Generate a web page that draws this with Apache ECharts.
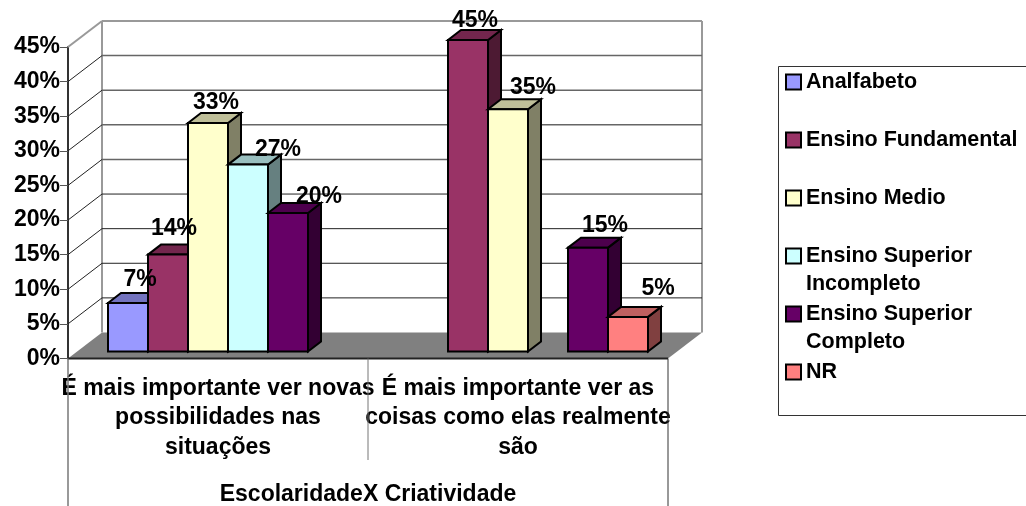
<!DOCTYPE html>
<html><head><meta charset="utf-8">
<style>html,body{margin:0;padding:0;background:#fff}#c{width:1026px;height:506px}</style>
<script src="https://cdn.jsdelivr.net/npm/echarts@6/dist/echarts.min.js"></script>
</head><body><div id="c"></div>
<script>
const categories = ['É mais importante ver novas\npossibilidades nas\nsituações', 'É mais importante ver as\ncoisas como elas realmente\nsão'];
const axisTitle = 'EscolaridadeX Criatividade';
const seriesNames = ['Analfabeto', 'Ensino Fundamental', 'Ensino Medio', 'Ensino Superior\nIncompleto', 'Ensino Superior\nCompleto', 'NR'];
const analfabeto = [7, null];
const fundamental = [14, 45];
const medio = [33, 35];
const superiorIncompleto = [27, null];
const superiorCompleto = [20, 15];
const nr = [null, 5];
const seriesValues = [analfabeto, fundamental, medio, superiorIncompleto, superiorCompleto, nr];
const ticks = [0, 5, 10, 15, 20, 25, 30, 35, 40, 45];
const colors = ['#9999FF', '#993366', '#FFFFCC', '#CCFFFF', '#660066', '#FF8080'];
// hand-placed data label nudges in the source chart: [dx from bar centre, baseline above bar top]
const labelNudge = [
  [[12, 16], null],
  [[6, 19], [7, 12]],
  [[8, 13], [25, 15]],
  [[30, 8], null],
  [[31, 9], [17, 15]],
  [null, [30, 21]]
];
const FONT = 'bold 23px "Liberation Sans", Arial, sans-serif';
const WALL = [34, -26];   // depth of the floor / walls
const INSET = [10, -7];   // bars sit this far inside the floor
const BAR = [13, -10];    // depth of a bar
const BAR_W = 40 / 300;   // bar width as share of a band

function shade(hex, k) {
  const n = parseInt(hex.slice(1), 16);
  const c = s => Math.round(((n >> s) & 255) * k);
  return `rgb(${c(16)},${c(8)},${c(0)})`;
}
function poly(points, fill, stroke, w, z2) {
  return { type: 'polygon', z2: z2, shape: { points }, style: { fill, stroke, lineWidth: w, lineJoin: 'miter' } };
}
function seg(x1, y1, x2, y2, stroke, w, z2) {
  return { type: 'line', z2: z2 || 0, shape: { x1, y1, x2, y2 }, style: { stroke, lineWidth: w } };
}

function renderFrame(params, api) {
  const v = api.value(0);
  const [x0, y] = api.coord([0, v]);
  const band = api.size([1, 0])[0];
  const left = x0 - band / 2, right = left + 2 * band, mid = left + band;
  const bx = left + WALL[0], by = y + WALL[1];
  const out = [];
  if (v === 0) {
    out.push(poly([[left, y], [bx, by], [right + WALL[0], by], [right, y]], '#808080', null, 0, 1));
    out.push(seg(left, y, right, y, '#222', 2, 6));
    out.push(seg(left, y, left, 506, '#777', 1.5, 6));
    out.push(seg(mid, y, mid, 460, '#777', 1, 6));
    out.push(seg(right, y, right, 506, '#333', 1, 6));
    const topY = api.coord([0, ticks[ticks.length - 1]])[1] + WALL[1];
    out.push(seg(bx, by, bx, topY, '#999', 2, 2));
    out.push(seg(right + WALL[0], by, right + WALL[0], topY, '#999', 2, 2));
  } else {
    const top = v === ticks[ticks.length - 1];
    const heavy = v >= 25;
    out.push(seg(left, y, bx, by, top ? '#999' : '#222', top ? 2 : 1, 3));
    out.push(seg(bx, by, right + WALL[0], by, top ? '#999' : (heavy ? '#666' : '#222'), top ? 2 : (heavy ? 1.5 : 1), 3));
  }
  return { type: 'group', children: out };
}

function renderBar(si) {
  return function (params, api) {
    const v = api.value(1);
    if (v == null || isNaN(v)) return null;
    const i = api.value(0);
    const [cx, yFront] = api.coord([i, v]);
    const yBase = api.coord([i, 0])[1];
    const band = api.size([1, 0])[0];
    const w = band * BAR_W;
    const x = cx + INSET[0] - 3 * w + si * w;
    const top = yFront + INSET[1], bot = yBase + INSET[1];
    const dx = BAR[0], dy = BAR[1];
    const col = colors[si];
    const nudge = labelNudge[si][i];
    const kids = [
      poly([[x + w, bot], [x + w + dx, bot + dy], [x + w + dx, top + dy], [x + w, top]], shade(col, 0.5), '#000', 2, 10 + si),
      poly([[x, top], [x + dx, top + dy], [x + w + dx, top + dy], [x + w, top]], shade(col, 0.75), '#000', 2, 10 + si),
      poly([[x, bot], [x, top], [x + w, top], [x + w, bot]], col, '#000', 2, 10 + si),
      { type: 'text', z2: 100, style: { text: Math.round(v) + '%', x: x + w / 2 + nudge[0], y: top - nudge[1] - 7, align: 'center', verticalAlign: 'middle', fill: '#000', font: FONT } }
    ];
    return { type: 'group', children: kids };
  };
}

const chart = echarts.init(document.getElementById('c'), null, { renderer: 'canvas' });
const series = [{
  type: 'custom', name: 'frame', silent: true, coordinateSystem: 'cartesian2d',
  encode: { y: 0 }, data: ticks.map(t => [t]), renderItem: renderFrame, clip: false, animation: false, z: 2
}];
seriesNames.forEach((name, si) => {
  series.push({
    type: 'custom', name, coordinateSystem: 'cartesian2d', clip: false, animation: false, z: 2,
    itemStyle: { color: colors[si] },
    encode: { x: 0, y: 1 },
    data: seriesValues[si].map((v, i) => [i, v]),
    renderItem: renderBar(si)
  });
});
chart.setOption({
  animation: false,
  backgroundColor: '#fff',
  textStyle: { fontFamily: '"Liberation Sans", Arial, sans-serif' },
  grid: { left: 68, top: 47, width: 600, height: 311.5, containLabel: false, outerBoundsMode: 'none' },
  xAxis: {
    type: 'category', data: categories,
    axisLine: { show: false }, axisTick: { show: false }, splitLine: { show: false },
    axisLabel: { interval: 0, color: '#000', fontWeight: 'bold', fontSize: 23, lineHeight: 29.5, margin: 15, hideOverlap: false },
    name: axisTitle, nameLocation: 'middle', nameGap: 125,
    nameTextStyle: { color: '#000', fontWeight: 'bold', fontSize: 23 }
  },
  yAxis: {
    type: 'value', min: 0, max: 45, interval: 5,
    axisLine: { show: true, lineStyle: { color: '#333', width: 2 } },
    axisTick: { show: true, length: 8, lineStyle: { color: '#555', width: 1 } },
    splitLine: { show: false },
    axisLabel: { formatter: '{value}%', color: '#000', fontWeight: 'bold', fontSize: 23, margin: 8, padding: [3, 0, 0, 0] }
  },
  legend: {
    show: true, orient: 'vertical', left: 780, top: 35, selectedMode: false,
    data: seriesNames, icon: 'rect', itemWidth: 15, itemHeight: 15, itemGap: -26,
    itemStyle: { borderColor: '#000', borderWidth: 2 },
    textStyle: { color: '#000', fontWeight: 'bold', fontSize: 21.5, lineHeight: 28 },
    formatter: n => n.indexOf('\n') >= 0 ? '\n' + n : '\n' + n + '\n'
  },
  graphic: [{
    type: 'rect', z: -1, silent: true,
    shape: { x: 778.5, y: 66.5, width: 260, height: 349 },
    style: { fill: '#fff', stroke: '#333', lineWidth: 1 }
  }],
  series
});
</script></body></html>
